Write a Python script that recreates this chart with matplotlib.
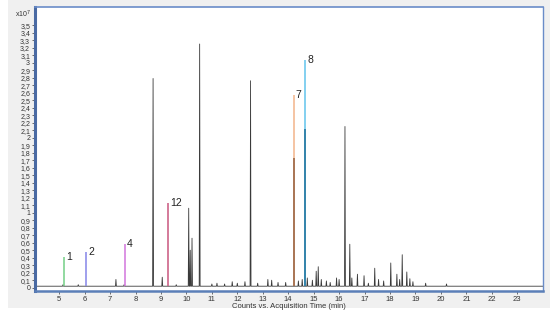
import matplotlib
matplotlib.use('Agg')
import matplotlib.pyplot as plt
from matplotlib.patches import Rectangle
import numpy as np

plt.rcParams['font.family'] = ['Liberation Sans', 'DejaVu Sans']

# unlabelled peaks (retention time in min, abundance in 1e7 counts)
peak_times = [5.15, 5.75, 7.23, 7.55, 8.69, 9.05, 9.6, 10.09, 10.15, 10.22, 10.52,
              11.0, 11.2, 11.5, 11.8, 12.0, 12.3, 12.52, 12.8, 13.2, 13.35, 13.6,
              13.9, 14.4, 14.55, 14.75, 14.95, 15.1, 15.18, 15.3, 15.5, 15.65,
              15.9, 16.0, 16.23, 16.42, 16.5, 16.72, 16.98, 17.15, 17.4, 17.55,
              17.75, 18.03, 18.27, 18.38, 18.48, 18.66, 18.78, 18.9, 19.4, 20.22]
peak_heights = [0.04, 0.04, 0.11, 0.04, 2.79, 0.14, 0.04, 1.06, 0.5, 0.66, 3.25,
                0.05, 0.06, 0.05, 0.08, 0.06, 0.08, 2.76, 0.06, 0.11, 0.1, 0.07,
                0.07, 0.09, 0.11, 0.13, 0.1, 0.22, 0.28, 0.11, 0.09, 0.07,
                0.13, 0.11, 2.15, 0.58, 0.13, 0.18, 0.16, 0.06, 0.26, 0.11,
                0.09, 0.33, 0.18, 0.11, 0.44, 0.21, 0.12, 0.08, 0.06, 0.05]
baseline = 0.02

# identified compounds
id_labels = ['1', '2', '4', '12', '7', '8']
id_times = [5.20, 6.06, 7.59, 9.27, 14.22, 14.66]
id_heights = [0.41, 0.47, 0.58, 1.125, 2.57, 3.03]
id_colors = ['#74cf86', '#8585e8', '#d275dc', '#c9567e', '#f3b48a', '#62c3ec']
# darker lower part of the two big identified peaks
split_labels = ['7', '8']
split_heights = [1.73, 2.12]
split_colors = ['#946040', '#1e6f98']

yticks = np.round(np.arange(0, 3.51, 0.1), 1)
xticks = list(range(5, 24))

fig = plt.figure(figsize=(5.5, 3.15), dpi=100)
fig.patches.append(Rectangle((8 / 550, 1 - 308 / 315), 1, 1, transform=fig.transFigure,
                             facecolor='#f0f0f0', edgecolor='none', zorder=-10))
ax = fig.add_axes([35 / 550, 1 - 290.7 / 315, (542.7 - 35) / 550, (290.7 - 6.5) / 315])

# build chromatogram trace
xs, ys = [4.05], [baseline]
for t, h in sorted(zip(peak_times, peak_heights)):
    xs += [t - 0.018, t, t + 0.018]
    ys += [baseline, h, baseline]
xs.append(24.0)
ys.append(baseline)
ax.plot(xs, ys, color='#3a3a3a', lw=0.6, zorder=2)

for lab, t, h, c in zip(id_labels, id_times, id_heights, id_colors):
    ax.vlines(t, baseline, h, color=c, lw=1.1, zorder=3)
    ax.text(t + 0.08, h, lab, fontsize=7.5, color='#222222', ha='left', va='center')
for lab, h, c in zip(split_labels, split_heights, split_colors):
    t = id_times[id_labels.index(lab)]
    ax.vlines(t, baseline, h, color=c, lw=1.1, zorder=4)

ax.set_xlim(4.05, 24.0)
ax.set_ylim(-0.04, 3.75)
ax.set_xticks(xticks)
ax.set_xticklabels([str(x) for x in xticks], fontsize=5.5, color='#333333')
ax.set_yticks(yticks)
ax.set_yticklabels([('%g' % v).replace('.', ',') for v in yticks], fontsize=5, color='#333333')
ax.tick_params(axis='both', length=2.5, width=0.6, color='#555555', pad=1)
ax.set_xlabel('Counts vs. Acquisition Time (min)', fontsize=5.5, color='#333333', labelpad=0)

ax.spines['left'].set_color('#4a6aa3')
ax.spines['left'].set_linewidth(2.2)
ax.spines['bottom'].set_color('#5b7fb8')
ax.spines['bottom'].set_linewidth(1.8)
ax.spines['top'].set_color('#6a8cc8')
ax.spines['top'].set_linewidth(1.2)
ax.spines['right'].set_color('#6a8cc8')
ax.spines['right'].set_linewidth(1.0)

fig.text(31 / 550, 1 - 14 / 315, 'x10$^7$', fontsize=5, color='#333333', ha='right', va='center')

fig.savefig('out.png', dpi=100)
plt.close(fig)
